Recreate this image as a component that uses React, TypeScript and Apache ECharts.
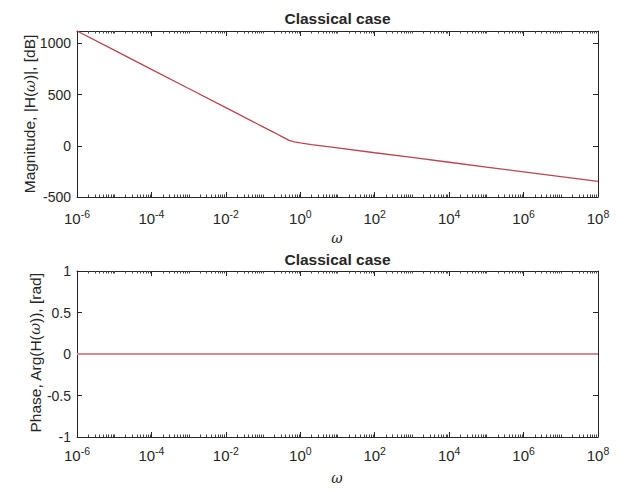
import React, { useEffect, useRef } from "react";
import * as echarts from "echarts";

// ---- data ----
const magOmega = [1e-6, 1e-5, 1e-4, 1e-3, 1e-2, 1e-1, 0.2, 0.35, 0.5, 0.7, 1, 2, 10, 1e2, 1e3, 1e4, 1e5, 1e6, 1e7, 1e8];
const magDb = [1120, 933, 746, 559, 372, 185, 129, 82, 52, 38, 28, 12, -21, -68, -114, -161, -208, -254, -301, -348];
const phaseOmega = [1e-6, 1e-3, 1, 1e3, 1e8];
const phaseRad = [0, 0, 0, 0, 0];

const titles = ["Classical case", "Classical case"];
const magYTicks = { min: -500, max: 1120, interval: 500 };
const phaseYTicks = { min: -1, max: 1, interval: 0.5 };
const xRange = { min: 1e-6, max: 1e8 };

// minor tick positions of a MATLAB-like log axis (odd decades + 2..9 multiples)
const decades = [-6, -5, -4, -3, -2, -1, 0, 1, 2, 3, 4, 5, 6, 7];
const minorTickValues: number[] = [];
decades.forEach((d) => {
  if (Math.abs(d) % 2 === 1) minorTickValues.push(Math.pow(10, d));
  [2, 3, 4, 5, 6, 7, 8, 9].forEach((m) => minorTickValues.push(m * Math.pow(10, d)));
});

const AX = "#262626";
const FONT = "'Liberation Sans', Arial, Helvetica, sans-serif";

export default function App() {
  const ref = useRef<HTMLDivElement>(null);
  useEffect(() => {
    document.body.style.margin = "0";
    if (!ref.current) return;
    const chart = echarts.init(ref.current, undefined, { renderer: "svg" });

    const grids = [
      { left: 77, top: 31, width: 521, height: 166 },
      { left: 77, top: 271, width: 521, height: 166 },
    ];

    const xLabelRich = {
      b: { fontSize: 15, lineHeight: 18, verticalAlign: "bottom", color: AX, fontFamily: FONT },
      s: { fontSize: 10.5, lineHeight: 11, verticalAlign: "top", color: AX, fontFamily: FONT },
    };

    const makeX = (gridIndex: number, margin: number) => [
      {
        type: "log",
        gridIndex,
        min: xRange.min,
        max: xRange.max,
        interval: 2,
        logBase: 10,
        position: "bottom",
        axisLine: { onZero: false, lineStyle: { color: AX, width: 1 } },
        axisTick: { inside: true, length: 5, lineStyle: { color: AX } },
        splitLine: { show: false },
        axisLabel: {
          margin,
          formatter: (v: number) => `{b|10}{s|${Math.round(Math.log10(v))}}`,
          rich: xLabelRich,
        },
      },
      {
        type: "log",
        gridIndex,
        min: xRange.min,
        max: xRange.max,
        interval: 2,
        logBase: 10,
        position: "top",
        axisLine: { onZero: false, lineStyle: { color: AX, width: 1 } },
        axisTick: { inside: true, length: 5, lineStyle: { color: AX } },
        splitLine: { show: false },
        axisLabel: { show: false },
      },
    ];

    const makeY = (gridIndex: number, r: { min: number; max: number; interval: number }) => [
      {
        type: "value",
        gridIndex,
        min: r.min,
        max: r.max,
        interval: r.interval,
        position: "left",
        axisLine: { show: true, onZero: false, lineStyle: { color: AX, width: 1 } },
        axisTick: { show: true, inside: true, length: 5, lineStyle: { color: AX } },
        splitLine: { show: false },
        axisLabel: {
          margin: 6,
          showMaxLabel: r.max % r.interval === 0,
          color: AX,
          fontSize: 14,
          fontFamily: FONT,
          formatter: (v: number) => String(v),
        },
      },
      {
        type: "value",
        gridIndex,
        min: r.min,
        max: r.max,
        interval: r.interval,
        position: "right",
        axisLine: { show: true, onZero: false, lineStyle: { color: AX, width: 1 } },
        axisTick: { show: true, inside: true, length: 5, lineStyle: { color: AX } },
        splitLine: { show: false },
        axisLabel: { show: false },
      },
    ];

    const minorSeries = (xAxisIndex: number, yAxisIndex: number) => ({
      type: "custom",
      xAxisIndex,
      yAxisIndex,
      silent: true,
      clip: false,
      data: minorTickValues.map((v) => [v, 0]),
      renderItem: (params: any, api: any) => {
        const x = Math.round(api.coord([api.value(0), 0])[0]) + 0.5;
        const cs = params.coordSys;
        const st = { stroke: "#444444", lineWidth: 1 };
        return {
          type: "group",
          children: [
            { type: "line", shape: { x1: x, y1: cs.y + cs.height, x2: x, y2: cs.y + cs.height - 2.5 }, style: st },
            { type: "line", shape: { x1: x, y1: cs.y, x2: x, y2: cs.y + 2.5 }, style: st },
          ],
        };
      },
    });

    const textStyle = (text: string, fontSize: number, bold = false) => ({
      text,
      fontSize,
      fontFamily: FONT,
      fontWeight: bold ? "bold" : "normal",
      fill: AX,
      align: "center",
      verticalAlign: "middle",
      rich: {
        w: { fontStyle: "italic", fontFamily: "'DejaVu Serif', 'Liberation Serif', serif", fontSize: fontSize - 1, fill: AX, color: AX },
      },
    });

    const option: any = {
      animation: false,
      backgroundColor: "#ffffff",
      grid: grids,
      xAxis: [...makeX(0, 11), ...makeX(1, 8)],
      yAxis: [...makeY(0, magYTicks), ...makeY(1, phaseYTicks)],
      series: [
        {
          type: "line",
          name: "Magnitude",
          xAxisIndex: 0,
          yAxisIndex: 0,
          data: magOmega.map((w, i) => [w, magDb[i]]),
          showSymbol: false,
          lineStyle: { color: "#b9464e", width: 1.3 },
          itemStyle: { color: "#b9464e" },
        },
        {
          type: "line",
          name: "Phase",
          xAxisIndex: 2,
          yAxisIndex: 2,
          data: phaseOmega.map((w, i) => [w, phaseRad[i]]),
          showSymbol: false,
          lineStyle: { color: "#d08c90", width: 2 },
          itemStyle: { color: "#d08c90" },
        },
        minorSeries(0, 0),
        minorSeries(2, 2),
      ],
      graphic: [
        { type: "text", x: 337.5, y: 18, style: textStyle(titles[0], 15.5, true) },
        { type: "text", x: 337.5, y: 259, style: textStyle(titles[1], 15.5, true) },
        { type: "text", x: 29.5, y: 114, rotation: Math.PI / 2, style: textStyle("Magnitude, |H({w|ω})|, [dB]", 15.5) },
        { type: "text", x: 35, y: 353, rotation: Math.PI / 2, style: textStyle("Phase, Arg(H({w|ω})), [rad]", 15.5) },
        { type: "text", x: 337, y: 238, style: textStyle("{w|ω}", 15) },
        { type: "text", x: 337, y: 478, style: textStyle("{w|ω}", 15) },
      ],
    };

    chart.setOption(option);
    return () => chart.dispose();
  }, []);

  return <div ref={ref} style={{ width: 640, height: 492 }} />;
}
